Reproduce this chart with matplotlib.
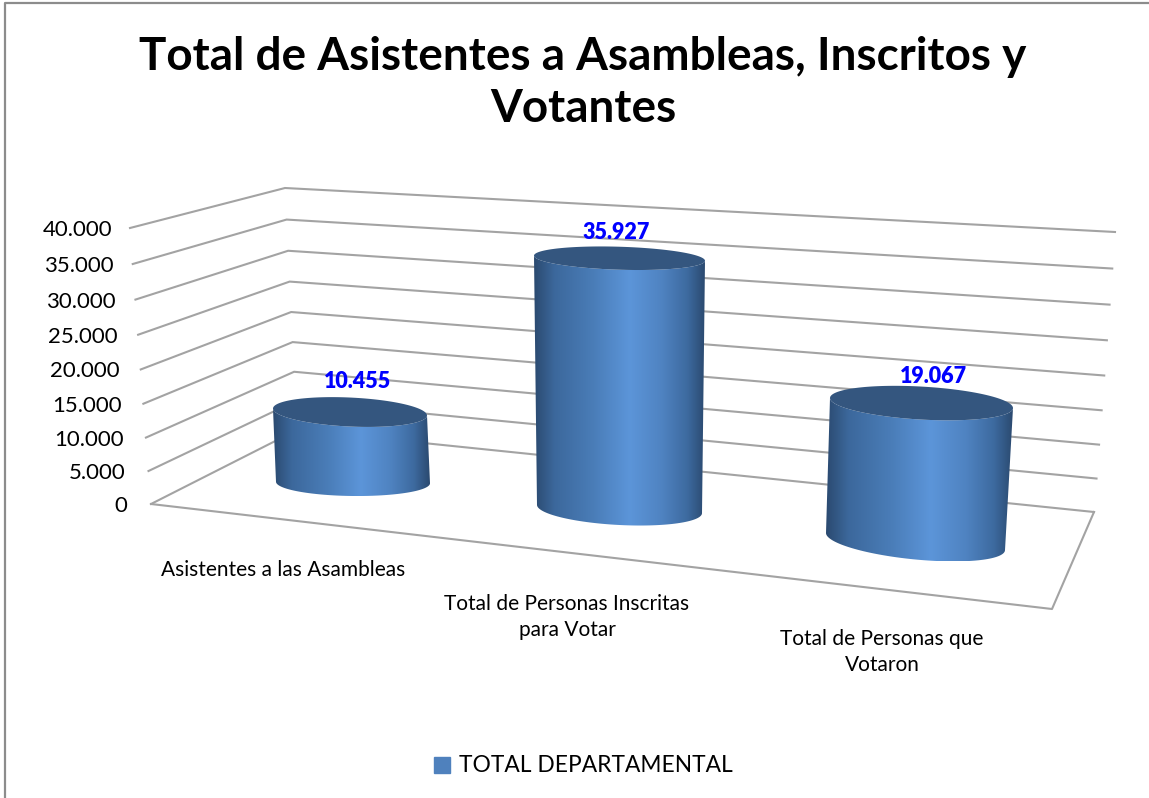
import numpy as np
import matplotlib.pyplot as plt
from matplotlib.colors import LinearSegmentedColormap
from matplotlib.patches import Patch, Polygon

plt.rcParams['font.family'] = ['Lato', 'DejaVu Sans']

# chart values
categories = ["Asistentes a las Asambleas", "Total de Personas Inscritas\npara Votar",
              "Total de Personas que\nVotaron"]
values = [10455, 35927, 19067]
value_labels = ["10.455", "35.927", "19.067"]
tick_values = [0, 5000, 10000, 15000, 20000, 25000, 30000, 35000, 40000]
tick_labels = ["0", "5.000", "10.000", "15.000", "20.000", "25.000", "30.000", "35.000", "40.000"]
series_name = "TOTAL DEPARTAMENTAL"
title = "Total de Asistentes a Asambleas, Inscritos y\nVotantes"

W, H = 1149, 798
vmax = 40000

# the fake 3D box, in pixels: corners at value 0 and at value vmax
front_left = np.array([[151, 504], [130, 228]], float)
back_left = np.array([[297, 430], [285, 188]], float)
back_right = np.array([[1094, 512], [1115, 232]], float)
front_right = np.array([1052, 609], float)

# each cylinder: base centre, px per unit of value, lean, half widths, tilts, minor radii
base_xy = [(353, 482.5), (619.5, 509), (915.5, 541.5)]
px_per_unit = [0.00674, 0.00698, 0.00726]
lean = [-3, 0, 6]
base_shape = [(77, 0.01, 13.5), (82.5, 0.05, 16), (89.5, 0.095, 18)]
top_shape = [(77, 0.045, 14.5), (85.5, 0.03, 11.5), (91.5, 0.055, 16.5)]
label_offset = [(8, -31), (-3.5, -25.5), (11.5, -27)]
label_xy = [(283, 570), (567, 617), (882, 652)]

side_cmap = LinearSegmentedColormap.from_list("side", [
    (0.0, "#2b4a70"), (0.12, "#3c689c"), (0.35, "#4a7db8"), (0.56, "#5c95d9"),
    (0.75, "#4f83c1"), (0.9, "#3d6a9f"), (1.0, "#2b4a70")])


def corner(c, v):
    # small perspective squeeze, the grid is a bit tighter near the floor
    s = v / vmax
    s = s * (1 - 0.05 * (1 - s))
    return c[0] + (c[1] - c[0]) * s


def ellipse(c, shape, t):
    hw, tilt, b = shape
    return np.column_stack([c[0] + hw * np.cos(t), c[1] + hw * tilt * np.cos(t) + b * np.sin(t)])


fig = plt.figure(figsize=(W / 100, H / 100), dpi=100)
ax = fig.add_axes([0, 0, 1, 1])
ax.set_xlim(0, W)
ax.set_ylim(H, 0)
ax.axis('off')

# outer chart border
ax.plot([5, 5, W], [H, 3, 3], color='#8c8c8c', lw=1.6)

ax.text(583, 83, title, ha='center', va='center', fontsize=33, fontweight='bold',
        color='black', linespacing=1.3)

# grid lines on the two walls
for v, lab in zip(tick_values, tick_labels):
    a, b, c = corner(front_left, v), corner(back_left, v), corner(back_right, v)
    ax.plot([a[0], b[0], c[0]], [a[1], b[1], c[1]], color='#a3a3a3', lw=1.5, solid_joinstyle='miter')
    ax.text(a[0] - 18 - 6 * (1 - v / vmax), a[1] + 2, lab, ha='right', va='center', fontsize=16, color='black')

# floor front edges
fl, br = corner(front_left, 0), corner(back_right, 0)
ax.plot([fl[0], front_right[0], br[0]], [fl[1], front_right[1], br[1]], color='#a3a3a3', lw=1.5)

# cylinders
t_front = np.linspace(0, np.pi, 80)
t_full = np.linspace(0, 2 * np.pi, 160)
grad = np.linspace(0, 1, 256).reshape(1, -1)
for i, v in enumerate(values):
    base = np.array(base_xy[i])
    top = base + np.array([lean[i], -v * px_per_unit[i]])
    low = ellipse(base, base_shape[i], t_front)
    high = ellipse(top, top_shape[i], t_front[::-1])
    outline = np.vstack([low, high])
    x0, x1 = outline[:, 0].min(), outline[:, 0].max()
    y0, y1 = outline[:, 1].min(), outline[:, 1].max()
    im = ax.imshow(grad, cmap=side_cmap, extent=[x0, x1, y1, y0], aspect='auto', zorder=3)
    im.set_clip_path(Polygon(outline, transform=ax.transData))
    ax.add_patch(Polygon(ellipse(top, top_shape[i], t_full), fc='#34567f', ec='none', zorder=4))
    ax.text(top[0] + label_offset[i][0], top[1] + label_offset[i][1], value_labels[i], ha='center', va='center',
            fontsize=15.5, fontweight='heavy', color='#0000ff', zorder=5)
    ax.text(label_xy[i][0], label_xy[i][1], categories[i], ha='center', va='center', fontsize=15,
            color='black', linespacing=1.35)

ax.set_xlim(0, W)
ax.set_ylim(H, 0)

fig.legend(handles=[Patch(color='#4f81bd', label=series_name)], loc='center', bbox_to_anchor=(583 / W, 1 - 766 / H),
           frameon=False, fontsize=16.4, handlelength=0.7, handleheight=0.7, handletextpad=0.4)

fig.savefig('out.png', dpi=100)
